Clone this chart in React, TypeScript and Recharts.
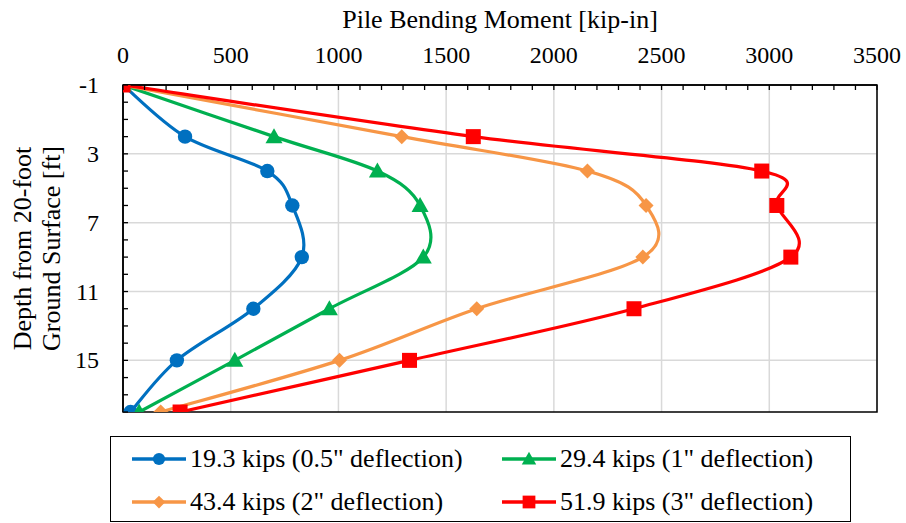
import React from 'react';
import { LineChart, Line, XAxis, YAxis, CartesianGrid, ReferenceArea } from 'recharts';

// Depth below the top of the pile [ft]
const depths = [-1, 2, 4, 6, 9, 12, 15, 18];
// Bending moments [kip-in] for each lateral load
const load19p3 = [0, 288, 670, 786, 830, 605, 250, 35];
const load29p4 = [0, 701, 1181, 1379, 1394, 958, 519, 75];
const load43p4 = [0, 1294, 2156, 2428, 2413, 1642, 1005, 175];
const load51p9 = [0, 1626, 2965, 3035, 3100, 2372, 1330, 265];

const seriesNames = [
  '19.3 kips (0.5" deflection)',
  '29.4 kips (1" deflection)',
  '43.4 kips (2" deflection)',
  '51.9 kips (3" deflection)',
];

const xMajorTicks = [0, 500, 1000, 1500, 2000, 2500, 3000, 3500];
const yMajorTicks = [-1, 3, 7, 11, 15];
const X_MIN = 0, X_MAX = 3500, X_MINOR = 100;
const Y_MIN = -1, Y_MAX = 18, Y_MINOR = 1;

const xMinorTicks: number[] = [];
for (let v = X_MIN; v <= X_MAX; v += X_MINOR) xMinorTicks.push(v);
const yMinorTicks: number[] = [];
for (let v = Y_MIN; v <= Y_MAX; v += Y_MINOR) yMinorTicks.push(v);

const data = depths.map((d, i) => ({
  depth: d,
  s1: load19p3[i],
  s2: load29p4[i],
  s3: load43p4[i],
  s4: load51p9[i],
}));

const series = [
  { key: 's1', name: seriesNames[0], color: '#0070C0', shape: 'circle' },
  { key: 's2', name: seriesNames[1], color: '#00B050', shape: 'triangle' },
  { key: 's3', name: seriesNames[2], color: '#F79646', shape: 'diamond' },
  { key: 's4', name: seriesNames[3], color: '#FF0000', shape: 'square' },
];

const FONT = '"Liberation Serif", Tinos, "Times New Roman", Times, "DejaVu Serif", "Noto Serif", serif';
const TICK_FS = 24;
const TEXT_FS = 26;

// Excel-like smoothing (Catmull-Rom through the points)
const excelSmooth: any = (context: any) => {
  let pts: number[][] = [];
  return {
    areaStart() {},
    areaEnd() {},
    lineStart() {
      pts = [];
    },
    point(x: number, y: number) {
      pts.push([+x, +y]);
    },
    lineEnd() {
      const n = pts.length;
      if (!n) return;
      context.moveTo(pts[0][0], pts[0][1]);
      for (let i = 0; i < n - 1; i++) {
        const p0 = pts[i - 1] || pts[i];
        const p1 = pts[i];
        const p2 = pts[i + 1];
        const p3 = pts[i + 2] || p2;
        context.bezierCurveTo(
          p1[0] + (p2[0] - p0[0]) / 6,
          p1[1] + (p2[1] - p0[1]) / 6,
          p2[0] - (p3[0] - p1[0]) / 6,
          p2[1] - (p3[1] - p1[1]) / 6,
          p2[0],
          p2[1]
        );
      }
    },
  };
};

function Marker({ shape, color, cx, cy, s }: any) {
  if (shape === 'circle') return <circle cx={cx} cy={cy} r={7.2 * s} fill={color} />;
  if (shape === 'triangle')
    return (
      <polygon
        points={`${cx},${cy - 8.5 * s} ${cx - 8.5 * s},${cy + 6.5 * s} ${cx + 8.5 * s},${cy + 6.5 * s}`}
        fill={color}
      />
    );
  if (shape === 'diamond')
    return (
      <polygon
        points={`${cx},${cy - 7.5 * s} ${cx + 7.5 * s},${cy} ${cx},${cy + 7.5 * s} ${cx - 7.5 * s},${cy}`}
        fill={color}
      />
    );
  return <rect x={cx - 7.5 * s} y={cy - 7.5 * s} width={15 * s} height={15 * s} fill={color} />;
}

const makeDot = (shape: string, color: string) => (props: any) => {
  const { cx, cy, index } = props;
  if (cx == null || cy == null) return <g key={`d-${shape}-${index}`} />;
  return <Marker key={`d-${shape}-${index}`} shape={shape} color={color} cx={cx} cy={cy} s={1} />;
};

const X_TICK_MARGIN = 10;
const Y_TICK_MARGIN = 10;

function XTick(props: any) {
  const { x, y, payload } = props;
  const axisY = y + X_TICK_MARGIN;
  const v = payload.value;
  const isMajor = xMajorTicks.includes(v);
  return (
    <g>
      <line x1={x} x2={x} y1={axisY} y2={axisY + 5} stroke="#000" strokeWidth={1.3} />
      {isMajor && (
        <text x={x} y={axisY - 22} textAnchor="middle" fontFamily={FONT} fontSize={TICK_FS} fill="#000">
          {v}
        </text>
      )}
    </g>
  );
}

function YTick(props: any) {
  const { x, y, payload } = props;
  const axisX = x + Y_TICK_MARGIN;
  const v = payload.value;
  const isMajor = yMajorTicks.includes(v);
  return (
    <g>
      <line x1={axisX} x2={axisX + 5} y1={y} y2={y} stroke="#000" strokeWidth={1.3} />
      {isMajor && (
        <text x={axisX - 24} y={y + 8} textAnchor="end" fontFamily={FONT} fontSize={TICK_FS} fill="#000">
          {v}
        </text>
      )}
    </g>
  );
}

const XTitle = (props: any) => {
  const { viewBox } = props;
  const cx = viewBox.x + viewBox.width / 2;
  return (
    <text x={cx} y={28} textAnchor="middle" fontFamily={FONT} fontSize={TEXT_FS} fill="#000">
      Pile Bending Moment [kip-in]
    </text>
  );
};

const YTitle = (props: any) => {
  const { viewBox } = props;
  const cy = viewBox.y + viewBox.height / 2;
  return (
    <g>
      <text
        x={31}
        y={cy}
        transform={`rotate(-90 31 ${cy})`}
        textAnchor="middle"
        fontFamily={FONT}
        fontSize={TEXT_FS}
        fill="#000"
      >
        Depth from 20-foot
      </text>
      <text
        x={60}
        y={cy}
        transform={`rotate(-90 60 ${cy})`}
        textAnchor="middle"
        fontFamily={FONT}
        fontSize={TEXT_FS}
        fill="#000"
      >
        Ground Surface [ft]
      </text>
    </g>
  );
};

function LegendBox() {
  const colX = [21, 391];
  const rowY = [22, 65];
  return (
    <div
      style={{
        position: 'absolute',
        left: 110,
        top: 436,
        width: 741,
        height: 86,
        border: '1.5px solid #000',
        boxSizing: 'border-box',
        fontFamily: FONT,
        fontSize: TEXT_FS,
        color: '#000',
        background: '#fff',
      }}
    >
      {series.map((s, i) => {
        const left = colX[i % 2];
        const cy = rowY[Math.floor(i / 2)];
        return (
          <div key={s.key} style={{ position: 'absolute', left, top: cy - 14, height: 28, display: 'flex', alignItems: 'center', whiteSpace: 'nowrap' }}>
            <svg width={54} height={28} style={{ display: 'block' }}>
              <line x1={0} x2={54} y1={14} y2={14} stroke={s.color} strokeWidth={3.5} />
              <Marker shape={s.shape} color={s.color} cx={27} cy={14} s={0.85} />
            </svg>
            <span style={{ marginLeft: 4, lineHeight: '28px' }}>{s.name}</span>
          </div>
        );
      })}
    </div>
  );
}

export default function App() {
  return (
    <div style={{ position: 'absolute', left: 0, top: 0, width: 906, height: 523, background: '#fff' }}>
      <LineChart
        width={906}
        height={523}
        data={data}
        layout="vertical"
        margin={{ top: 0, right: 29, bottom: 111, left: 0 }}
      >
        <CartesianGrid
          stroke="#d9d9d9"
          strokeWidth={1.5}
          verticalCoordinatesGenerator={({ offset }: any) =>
            xMajorTicks.map((v) => offset.left + ((v - X_MIN) / (X_MAX - X_MIN)) * offset.width)
          }
          horizontalCoordinatesGenerator={({ offset }: any) =>
            yMajorTicks.map((v) => offset.top + ((v - Y_MIN) / (Y_MAX - Y_MIN)) * offset.height)
          }
        />
        <XAxis
          type="number"
          orientation="top"
          domain={[X_MIN, X_MAX]}
          ticks={xMinorTicks}
          interval={0}
          height={85}
          tickSize={0}
          tickMargin={X_TICK_MARGIN}
          tickLine={false}
          axisLine={{ stroke: '#000', strokeWidth: 1.5 }}
          tick={<XTick />}
          allowDataOverflow
          label={<XTitle />}
        />
        <YAxis
          type="number"
          dataKey="depth"
          domain={[Y_MIN, Y_MAX]}
          ticks={yMinorTicks}
          interval={0}
          width={123}
          tickSize={0}
          tickMargin={Y_TICK_MARGIN}
          tickLine={false}
          axisLine={{ stroke: '#000', strokeWidth: 1.5 }}
          tick={<YTick />}
          allowDataOverflow
          label={<YTitle />}
        />
        <ReferenceArea
          x1={X_MIN}
          x2={X_MAX}
          y1={Y_MIN}
          y2={Y_MAX}
          fill="none"
          fillOpacity={0}
          stroke="#000"
          strokeWidth={1.5}
          ifOverflow="visible"
        />
        {series.map((s) => (
          <Line
            key={s.key}
            dataKey={s.key}
            name={s.name}
            type={excelSmooth}
            stroke={s.color}
            strokeWidth={3.2}
            dot={makeDot(s.shape, s.color)}
            activeDot={false}
            isAnimationActive={false}
          />
        ))}
      </LineChart>
      <LegendBox />
    </div>
  );
}
